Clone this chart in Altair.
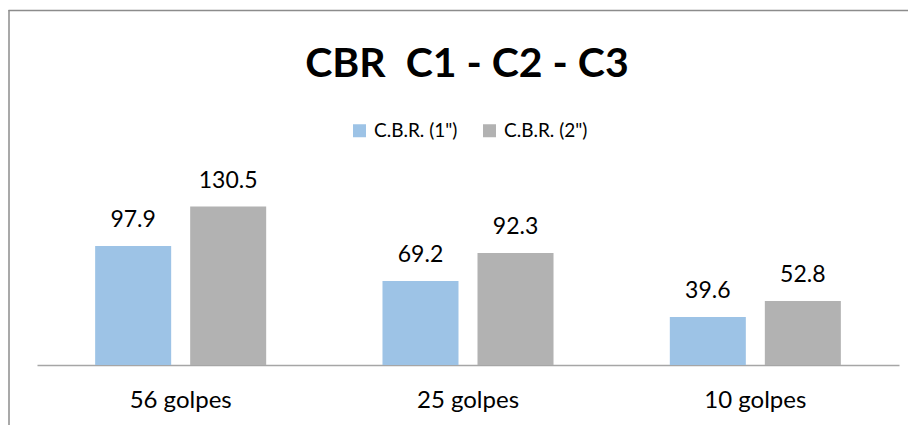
import altair as alt
import pandas as pd

categories = ["56 golpes", "25 golpes", "10 golpes"]
series = ['C.B.R. (1")', 'C.B.R. (2")']
cbr_1 = [97.9, 69.2, 39.6]
cbr_2 = [130.5, 92.3, 52.8]
title_text = "CBR\u00a0\u00a0C1 - C2 - C3"
colors = ["#9DC3E6", "#B2B2B2"]

rows = []
for i, c in enumerate(categories):
    rows.append({"golpes": c, "serie": series[0], "cbr": cbr_1[i]})
    rows.append({"golpes": c, "serie": series[1], "cbr": cbr_2[i]})
df = pd.DataFrame(rows)

FONT = "Lato"

x = alt.X(
    "golpes:N",
    sort=categories,
    scale=alt.Scale(paddingInner=0, paddingOuter=0),
    axis=alt.Axis(
        title=None, labelAngle=0, ticks=False, tickSize=0,
        domainColor="#A6A6A6", domainWidth=1.5,
        labelFontSize=24, labelFont=FONT, labelColor="#000000",
        labelPadding=42, labelBaseline="alphabetic",
    ),
)
xo = alt.XOffset("serie:N", sort=series,
                 scale=alt.Scale(paddingInner=0.2, paddingOuter=0.612))
y = alt.Y("cbr:Q", scale=alt.Scale(domain=[0, 140]), axis=None)
color = alt.Color(
    "serie:N", sort=series,
    scale=alt.Scale(domain=series, range=colors),
    legend=alt.Legend(
        title=None, orient="none", direction="horizontal",
        legendX=313, legendY=-74,
        symbolType="square", symbolSize=169, symbolStrokeWidth=0,
        labelFontSize=19, labelFont=FONT, labelColor="#000000",
        columnPadding=22, labelOffset=5,
    ),
)

frame_df = pd.DataFrame({"k": [0]})
left_border = alt.Chart(frame_df).mark_rule(
    stroke="#8C8C8C", strokeWidth=1.5
).encode(x=alt.value(-28), y=alt.value(-185), y2=alt.value(600))
top_border = alt.Chart(frame_df).mark_rule(
    stroke="#8C8C8C", strokeWidth=1.5
).encode(y=alt.value(-184.5), x=alt.value(-28.5), x2=alt.value(880))

title = alt.Chart(pd.DataFrame({"t": [title_text]})).mark_text(
    fontSize=41, font=FONT, fontWeight="bold", color="#000000",
    align="center", baseline="alphabetic",
).encode(x=alt.value(430), y=alt.value(-118), text="t:N")

bars = alt.Chart(df).mark_bar().encode(x=x, xOffset=xo, y=y, color=color)

labels = alt.Chart(df).mark_text(
    dy=-19, baseline="alphabetic", fontSize=23, font=FONT, color="#000000"
).encode(x=x, xOffset=xo, y=y, text=alt.Text("cbr:Q", format=".1f"))

chart = alt.layer(left_border, top_border, title, bars, labels).properties(
    width=862, height=170,
    padding={"left": 29, "top": 187, "right": 9, "bottom": 60},
    autosize=alt.AutoSizeParams(type="none"),
).configure_view(strokeWidth=0)

chart.save("out.html", embed_options={"renderer": "svg", "actions": False})
